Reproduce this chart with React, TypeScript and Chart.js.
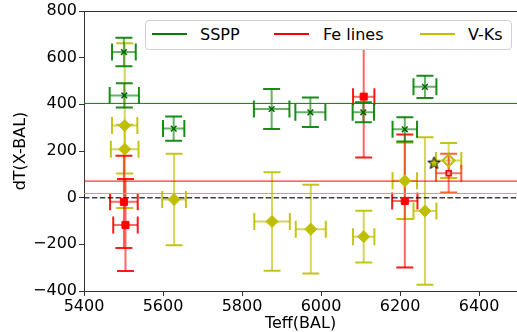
import React, { useEffect, useRef } from "react";
import { Chart, registerables } from "chart.js";

Chart.register(...registerables);

// ---- axis ----
const xTicks = [5400, 5600, 5800, 6000, 6200, 6400];
const yTicks = [-400, -200, 0, 200, 400, 600, 800];
const xMin = 5400;
const xMax = 6496;
const yMin = -400;
const yMax = 800;
const xTitle = "Teff(BAL)";
const yTitle = "dT(X-BAL)";

// ---- series names ----
const seriesNames = ["SSPP", "Fe lines", "V-Ks"];

// ---- SSPP ----
const ssppTeff = [5501, 5502, 5627, 5875, 5973, 6107, 6212, 6263];
const ssppDT = [624, 438, 296, 380, 366, 366, 293, 475];
const ssppTeffErr = [30, 37, 27, 45, 38, 27, 31, 29];
const ssppDTErr = [61, 52, 52, 86, 63, 43, 52, 48];
const ssppMean = 404;

// ---- Fe lines ----
const feTeff = [5501, 5505, 6108, 6212];
const feDT = [-18, -117, 433, -14];
const feTeffErr = [35, 31, 27, 32];
const feDTErr = [198, 197, 261, 285];
const feExtraTeff = [6323];
const feExtraDT = [105];
const feExtraTeffErr = [32];
const feExtraDTErr = [83];
const feMean = 71;

// ---- V-Ks ----
const vksTeff = [5503, 5503, 5628, 5876, 5974, 6108, 6212, 6263];
const vksDT = [309, 208, -8, -102, -135, -167, 72, -57];
const vksTeffErr = [32, 35, 30, 45, 38, 27, 31, 29];
const vksDTErr = [353, 104, 196, 211, 190, 111, 163, 316];
const vksExtraTeff = [6323];
const vksExtraDT = [159];
const vksExtraTeffErr = [32];
const vksExtraDTErr = [75];
const vksMean = 18;

// ---- star ----
const starTeff = [6286];
const starDT = [148];

const zeroLevel = 0;

const GREEN = "#008000";
const RED = "#ff0000";
const OLIVE = "#bfbf00";
const seriesColors = [GREEN, RED, OLIVE];

const FONT = "'DejaVu Sans', 'Liberation Sans', sans-serif";

function pts(xs: number[], ys: number[]) {
  return xs.map((x, i) => ({ x, y: ys[i] }));
}

function zeroPad(s: any) {
  s.paddingLeft = 0;
  s.paddingRight = 0;
  s.paddingTop = 0;
  s.paddingBottom = 0;
  if (s._margins) {
    s._margins.left = 0;
    s._margins.right = 0;
    s._margins.top = 0;
    s._margins.bottom = 0;
  }
}

function makeStar(fill: string, stroke: string, r: number) {
  const c = document.createElement("canvas");
  const s = Math.ceil(r * 2 + 4);
  c.width = s;
  c.height = s;
  const g = c.getContext("2d")!;
  g.beginPath();
  for (let k = 0; k < 10; k++) {
    const rr = k % 2 === 0 ? r : r * 0.42;
    const a = -Math.PI / 2 + (k * Math.PI) / 5;
    g.lineTo(s / 2 + rr * Math.cos(a), s / 2 + rr * Math.sin(a));
  }
  g.closePath();
  g.fillStyle = fill;
  g.fill();
  g.lineWidth = 1;
  g.strokeStyle = stroke;
  g.stroke();
  return c;
}

const errorBarPlugin = {
  id: "errorBars",
  beforeDatasetsDraw(chart: any) {
    const ctx = chart.ctx;
    const xs = chart.scales.x;
    const ys = chart.scales.y;
    const a = chart.chartArea;
    ctx.save();
    ctx.beginPath();
    ctx.rect(a.left, a.top, a.right - a.left, a.bottom - a.top);
    ctx.clip();
    const n = chart.data.datasets.length;
    for (let i = n - 1; i >= 0; i--) {
      const ds: any = chart.data.datasets[i];
      if (!ds.xErr && !ds.yErr) continue;
      const cap = 8.5;
      ds.data.forEach((p: any, j: number) => {
        const px = xs.getPixelForValue(p.x);
        const py = ys.getPixelForValue(p.y);
        const xe = ds.xErr ? ds.xErr[j] : 0;
        const ye = ds.yErr ? ds.yErr[j] : 0;
        const x0 = xs.getPixelForValue(p.x - xe);
        const x1 = xs.getPixelForValue(p.x + xe);
        const y0 = ys.getPixelForValue(p.y - ye);
        const y1 = ys.getPixelForValue(p.y + ye);
        ctx.lineCap = "butt";
        ctx.strokeStyle = ds.errBarColor;
        ctx.lineWidth = 2;
        ctx.beginPath();
        ctx.moveTo(px, y0);
        ctx.lineTo(px, y1);
        ctx.moveTo(x0, py);
        ctx.lineTo(x1, py);
        ctx.stroke();
        ctx.strokeStyle = ds.errCapColor;
        ctx.lineWidth = 2;
        ctx.beginPath();
        ctx.moveTo(px - cap, y0);
        ctx.lineTo(px + cap, y0);
        ctx.moveTo(px - cap, y1);
        ctx.lineTo(px + cap, y1);
        ctx.moveTo(x0, py - cap);
        ctx.lineTo(x0, py + cap);
        ctx.moveTo(x1, py - cap);
        ctx.lineTo(x1, py + cap);
        ctx.stroke();
      });
    }
    ctx.restore();
  },
  afterDraw(chart: any) {
    const ctx = chart.ctx;
    const a = chart.chartArea;
    ctx.save();
    ctx.strokeStyle = "#333";
    ctx.lineWidth = 1;
    ctx.beginPath();
    ctx.moveTo(a.left, a.top + 0.5);
    ctx.lineTo(a.right, a.top + 0.5);
    ctx.stroke();
    ctx.restore();
  },
};

function hLine(level: number, color: string, dash: number[] = [], width = 1) {
  return {
    data: [
      { x: xMin, y: level },
      { x: xMax, y: level },
    ],
    showLine: true,
    borderColor: color,
    borderWidth: width,
    borderDash: dash,
    pointRadius: 0,
    order: 5,
  };
}

export default function App() {
  const ref = useRef<HTMLCanvasElement>(null);

  useEffect(() => {
    if (!ref.current) return;
    const star = makeStar(OLIVE, "#000", 6.5);
    const chart = new Chart(ref.current, {
      type: "scatter",
      data: {
        datasets: [
          {
            label: seriesNames[0],
            data: pts(ssppTeff, ssppDT),
            xErr: ssppTeffErr,
            yErr: ssppDTErr,
            errBarColor: "rgba(0,128,0,0.6)",
            errCapColor: "rgba(0,128,0,0.9)",
            pointStyle: "crossRot",
            pointRadius: 4,
            borderWidth: 1.5,
            borderColor: "#006400",
            backgroundColor: "#006400",
            order: 0,
          } as any,
          {
            label: seriesNames[1],
            data: pts(feTeff, feDT),
            xErr: feTeffErr,
            yErr: feDTErr,
            errBarColor: "rgba(255,0,0,0.6)",
            errCapColor: "rgba(255,0,0,0.9)",
            pointStyle: "rect",
            pointRadius: 5,
            borderWidth: 1,
            borderColor: RED,
            backgroundColor: RED,
            order: 1,
          } as any,
          {
            label: seriesNames[1] + " extra",
            data: pts(feExtraTeff, feExtraDT),
            xErr: feExtraTeffErr,
            yErr: feExtraDTErr,
            errBarColor: "rgba(255,0,0,0.55)",
            errCapColor: "rgba(255,60,0,0.8)",
            pointStyle: "rect",
            pointRadius: 3.5,
            borderWidth: 1.5,
            borderColor: RED,
            backgroundColor: "rgba(255,140,140,1)",
            order: 1,
          } as any,
          {
            label: "star",
            data: pts(starTeff, starDT),
            pointStyle: star,
            pointRadius: 7,
            order: 1,
          } as any,
          {
            label: seriesNames[2],
            data: pts(vksTeff, vksDT),
            xErr: vksTeffErr,
            yErr: vksDTErr,
            errBarColor: "rgba(191,191,0,0.65)",
            errCapColor: "rgba(191,191,0,0.9)",
            pointStyle: "rectRot",
            pointRadius: 6,
            borderWidth: 1,
            borderColor: OLIVE,
            backgroundColor: OLIVE,
            order: 2,
          } as any,
          {
            label: seriesNames[2] + " extra",
            data: pts(vksExtraTeff, vksExtraDT),
            xErr: vksExtraTeffErr,
            yErr: vksExtraDTErr,
            errBarColor: "rgba(191,191,0,0.6)",
            errCapColor: "rgba(191,191,0,0.9)",
            pointStyle: "rectRot",
            pointRadius: 6,
            borderWidth: 2,
            borderColor: OLIVE,
            backgroundColor: "rgba(255,255,255,0)",
            order: 2,
          } as any,
          hLine(ssppMean, GREEN) as any,
          hLine(feMean, RED) as any,
          hLine(vksMean, OLIVE) as any,
          hLine(zeroLevel, "rgba(0,0,0,0.75)", [5.5, 2.4], 1.5) as any,
        ],
      },
      options: {
        responsive: false,
        animation: false,
        devicePixelRatio: 1,
        layout: { autoPadding: false, padding: { top: 11, right: 0, left: 0, bottom: 0 } },
        plugins: {
          legend: { display: false },
          tooltip: { enabled: false },
        },
        scales: {
          x: {
            type: "linear",
            min: xMin,
            max: xMax,
            afterBuildTicks: (s: any) => {
              s.ticks = xTicks.map((v) => ({ value: v }));
            },
            afterFit: (s: any) => {
              s.height = 41;
              zeroPad(s);
            },
            ticks: {
              color: "#000",
              font: { family: FONT, size: 16 },
              padding: 1,
              maxRotation: 0,
              callback: (v: any) => String(v).replace("-", "\u2212"),
            },
            grid: {
              drawOnChartArea: false,
              drawTicks: true,
              tickLength: 5,
              tickColor: "#333",
            },
            border: { display: true, color: "#333", width: 1 },
            title: {
              display: true,
              text: xTitle,
              color: "#000",
              font: { family: FONT, size: 16 },
              padding: { top: 0, bottom: -1 },
            },
          },
          y: {
            type: "linear",
            min: yMin,
            max: yMax,
            afterBuildTicks: (s: any) => {
              s.ticks = yTicks.map((v) => ({ value: v }));
            },
            afterFit: (s: any) => {
              s.width = 84;
              zeroPad(s);
            },
            ticks: {
              color: "#000",
              font: { family: FONT, size: 16 },
              padding: 2,
              callback: (v: any) => String(v).replace("-", "\u2212"),
            },
            grid: {
              drawOnChartArea: false,
              drawTicks: true,
              tickLength: 5,
              tickColor: "#333",
            },
            border: { display: true, color: "#333", width: 1 },
            title: {
              display: true,
              text: yTitle,
              color: "#000",
              font: { family: FONT, size: 16 },
              padding: { top: 11, bottom: 0 },
            },
          },
        },
      } as any,
      plugins: [errorBarPlugin],
    });
    return () => chart.destroy();
  }, []);

  const legendLayout = [
    { line: 6, text: 54 },
    { line: 128, text: 177 },
    { line: 274, text: 322 },
  ];

  return (
    <div style={{ position: "fixed", left: 0, top: 0, width: 517, height: 332, background: "#fff", overflow: "hidden" }}>
      <canvas ref={ref} width={517} height={332} style={{ display: "block" }} />
      <div
        style={{
          position: "absolute",
          left: 145,
          top: 20,
          width: 365,
          height: 28,
          border: "1px solid #d0d0d0",
          borderRadius: 4,
          background: "#fff",
          fontFamily: FONT,
          fontSize: 16,
          color: "#000",
        }}
      >
        {seriesNames.map((name, i) => (
          <React.Fragment key={name}>
            <div
              style={{
                position: "absolute",
                left: legendLayout[i].line,
                top: 12,
                width: 35,
                height: 2,
                background: seriesColors[i],
              }}
            />
            <div
              style={{
                position: "absolute",
                left: legendLayout[i].text,
                top: 4,
                lineHeight: "19px",
                whiteSpace: "nowrap",
              }}
            >
              {name}
            </div>
          </React.Fragment>
        ))}
      </div>
    </div>
  );
}
